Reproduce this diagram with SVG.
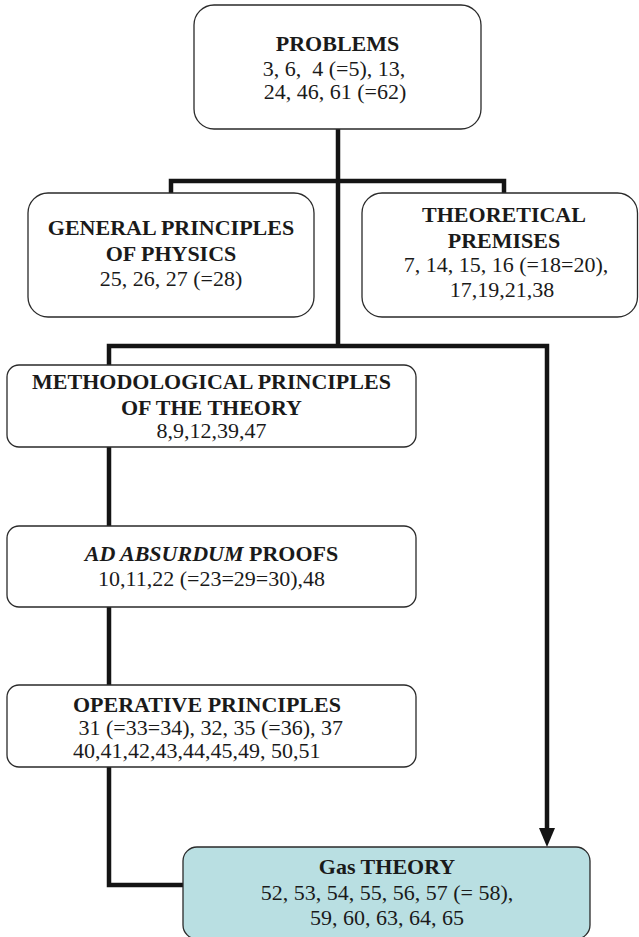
<svg xmlns="http://www.w3.org/2000/svg" width="639" height="937" viewBox="0 0 639 937">
<style>
.box{fill:#fff;stroke:#2a2a2a;stroke-width:1.3}
.gas{fill:#b9dfe2;stroke:#2a2a2a;stroke-width:1.3}
.t{font-family:"Liberation Serif","Times New Roman",serif;font-size:22px;fill:#1a1a1a;text-anchor:middle;white-space:pre}
.b{font-weight:bold}
.l{text-anchor:start}
.c{fill:none;stroke:#141414;stroke-width:4.5;stroke-linejoin:miter}
</style>
<defs>
<marker id="ah" markerWidth="16" markerHeight="19" refX="8" refY="19" orient="0" markerUnits="userSpaceOnUse" viewBox="0 0 16 19">
<polygon points="0,0 16,0 8,19" fill="#141414"/>
</marker>
</defs>
<rect width="639" height="937" fill="#fff"/>
<g id="connectors">
<path class="c" d="M338,129 V346"/>
<path class="c" d="M171,193 V181 H504 V193"/>
<path class="c" d="M109,365 V346 H547 V830"/>
<path d="M547,828 V847" fill="none" stroke="none" marker-end="url(#ah)"/>
<path class="c" d="M109,447 V526"/>
<path class="c" d="M109,607 V685"/>
<path class="c" d="M109,767 V885 H183"/>
</g>
<g id="problems">
<rect class="box" x="194" y="5" width="287" height="124" rx="20"/>
<text class="t b" x="337.5" y="51">PROBLEMS</text>
<text class="t" x="334" y="76">3, 6,  4 (=5), 13,</text>
<text class="t" x="335" y="99">24, 46, 61 (=62)</text>
</g>
<g id="general">
<rect class="box" x="28" y="193" width="286" height="124" rx="20"/>
<text class="t b" x="171" y="235">GENERAL PRINCIPLES</text>
<text class="t b" x="171" y="261">OF PHYSICS</text>
<text class="t" x="171" y="286">25, 26, 27 (=28)</text>
</g>
<g id="theoretical">
<rect class="box" x="362" y="193" width="275.5" height="124" rx="20"/>
<text class="t b" x="504" y="222">THEORETICAL</text>
<text class="t b" x="504" y="248">PREMISES</text>
<text class="t" x="506" y="272">7, 14, 15, 16 (=18=20),</text>
<text class="t" x="502" y="297">17,19,21,38</text>
</g>
<g id="methodological">
<rect class="box" x="7" y="365" width="409" height="82" rx="12"/>
<text class="t b" x="211.5" y="389">METHODOLOGICAL PRINCIPLES</text>
<text class="t b" x="211.5" y="415">OF THE THEORY</text>
<text class="t" x="211.5" y="438">8,9,12,39,47</text>
</g>
<g id="absurdum">
<rect class="box" x="7" y="526" width="409" height="81" rx="12"/>
<text class="t b" x="211.5" y="561"><tspan font-style="italic">AD ABSURDUM</tspan> PROOFS</text>
<text class="t" x="211.5" y="586">10,11,22 (=23=29=30),48</text>
</g>
<g id="operative">
<rect class="box" x="7" y="685" width="409" height="82" rx="12"/>
<text class="t b l" x="73" y="712">OPERATIVE PRINCIPLES</text>
<text class="t l" x="73" y="735"> 31 (=33=34), 32, 35 (=36), 37</text>
<text class="t l" x="73" y="758">40,41,42,43,44,45,49, 50,51</text>
</g>
<g id="gas">
<rect class="gas" x="183" y="847" width="407" height="92" rx="14"/>
<text class="t b" x="387" y="874">Gas THEORY</text>
<text class="t" x="387" y="900">52, 53, 54, 55, 56, 57 (= 58),</text>
<text class="t" x="387" y="925">59, 60, 63, 64, 65</text>
</g>
</svg>
